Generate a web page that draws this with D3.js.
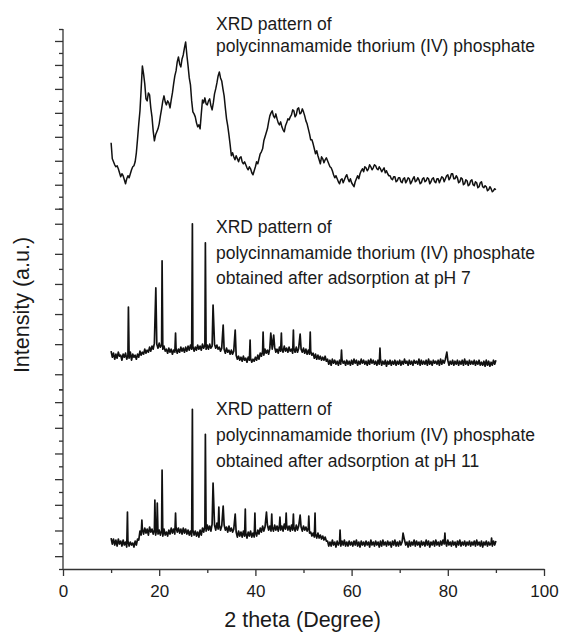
<!DOCTYPE html>
<html>
<head>
<meta charset="utf-8">
<script src="https://cdn.jsdelivr.net/npm/d3@7"></script>
<style>
  body { margin: 0; background: #fff; }
  text { font-family: 'Liberation Sans', Arial, sans-serif; fill: #1a1a1a; }
</style>
</head>
<body>
<div id="chart"></div>
<script>
// 2 theta scan: starts at 10 deg, step 0.25 deg
const scanStart = 10
const scanStep = 0.25

// intensity (a.u.), one value per step, 20 values per row (5 deg)
const asPrepared = [
  660, 500, 470, 440, 420, 430, 400, 360, 320, 350, 330, 290, 250, 300, 330, 310, 350, 390, 420, 430,
  470, 560, 700, 850, 980, 1200, 1430, 1350, 1250, 1100, 1080, 1160, 1140, 1010, 920, 780, 680, 740, 770, 800,
  850, 930, 1000, 1080, 1130, 1070, 1040, 1080, 1060, 1010, 1090, 1160, 1250, 1330, 1380, 1470, 1520, 1450, 1420, 1500,
  1540, 1610, 1670, 1540, 1430, 1310, 1240, 1080, 970, 950, 920, 860, 820, 840, 800, 950, 1090, 1060, 1110, 1050,
  1040, 1080, 1100, 1030, 990, 1060, 1150, 1200, 1260, 1330, 1370, 1310, 1280, 1200, 1130, 1010, 900, 830, 740, 640,
  530, 560, 520, 490, 530, 500, 470, 510, 520, 470, 450, 470, 440, 410, 390, 420, 400, 360, 340, 380,
  420, 470, 450, 500, 550, 570, 600, 680, 720, 760, 800, 870, 930, 960, 980, 930, 910, 950, 900, 860,
  840, 870, 820, 790, 770, 830, 860, 900, 890, 920, 940, 990, 980, 920, 940, 1000, 1010, 950, 960, 1000,
  970, 930, 880, 850, 800, 750, 690, 690, 650, 600, 550, 580, 530, 490, 450, 520, 500, 460, 490, 510,
  480, 450, 420, 410, 380, 340, 310, 330, 300, 270, 250, 290, 300, 260, 290, 320, 340, 300, 270, 300,
  260, 240, 220, 270, 300, 330, 300, 350, 380, 400, 370, 420, 410, 380, 400, 440, 420, 390, 410, 440,
  430, 400, 390, 420, 400, 370, 390, 410, 360, 380, 350, 330, 330, 300, 290, 320, 320, 270, 280, 310,
  310, 270, 260, 300, 310, 260, 280, 310, 300, 250, 270, 300, 320, 270, 280, 310, 290, 250, 260, 300,
  310, 270, 280, 310, 300, 250, 270, 300, 310, 270, 260, 300, 300, 260, 290, 320, 310, 270, 300, 330,
  340, 290, 310, 350, 350, 300, 300, 330, 310, 260, 270, 310, 300, 240, 250, 290, 280, 230, 240, 280,
  290, 240, 230, 270, 260, 210, 220, 260, 270, 220, 210, 230, 220, 180, 190, 220, 200, 170, 180, 200,
  190
]

const afterPh7 = [
  380, 320, 360, 300, 350, 310, 370, 330, 340, 290, 350, 320, 360, 300, 340, 310, 370, 290, 350, 320,
  340, 300, 350, 320, 380, 340, 370, 350, 400, 360, 390, 370, 420, 380, 430, 400, 460, 420, 450, 410,
  460, 420, 440, 400, 430, 380, 400, 360, 410, 370, 400, 350, 390, 370, 410, 360, 400, 370, 420, 380,
  410, 370, 420, 380, 430, 390, 440, 400, 430, 380, 420, 390, 440, 400, 430, 390, 450, 410, 440, 400,
  440, 400, 450, 410, 430, 390, 450, 410, 440, 400, 420, 380, 410, 370, 400, 360, 410, 370, 390, 350,
  390, 350, 380, 340, 340, 300, 330, 290, 320, 280, 330, 290, 310, 270, 320, 290, 310, 270, 300, 280,
  320, 290, 340, 300, 360, 330, 380, 340, 400, 360, 390, 350, 410, 370, 400, 360, 420, 370, 400, 360,
  420, 380, 410, 370, 430, 380, 410, 370, 420, 380, 400, 360, 410, 370, 420, 370, 410, 360, 400, 370,
  410, 360, 400, 350, 390, 350, 380, 340, 360, 310, 350, 300, 340, 300, 330, 290, 320, 290, 330, 280,
  300, 250, 290, 240, 300, 260, 290, 250, 280, 240, 290, 250, 300, 260, 280, 240, 290, 250, 280, 240,
  290, 250, 300, 260, 290, 240, 280, 250, 300, 260, 290, 250, 280, 240, 290, 250, 300, 260, 290, 250,
  280, 240, 290, 250, 300, 240, 280, 250, 290, 230, 280, 250, 290, 240, 280, 250, 290, 240, 280, 250,
  290, 240, 280, 250, 300, 260, 280, 240, 290, 250, 280, 240, 290, 260, 280, 250, 300, 240, 290, 250,
  280, 250, 290, 240, 300, 250, 280, 240, 290, 260, 280, 250, 290, 240, 300, 250, 290, 260, 300, 250,
  290, 240, 280, 250, 290, 240, 280, 250, 290, 240, 280, 250, 290, 240, 300, 250, 280, 240, 290, 250,
  280, 250, 290, 240, 280, 250, 290, 240, 270, 240, 280, 230, 290, 240, 280, 230, 270, 240, 290, 250,
  290
]

const afterPh11 = [
  310, 250, 300, 240, 290, 230, 300, 250, 280, 230, 290, 240, 270, 220, 280, 230, 270, 240, 260, 220,
  280, 240, 300, 290, 380, 340, 400, 350, 410, 360, 400, 340, 420, 370, 400, 350, 390, 340, 400, 350,
  390, 340, 380, 330, 400, 340, 370, 330, 390, 350, 410, 360, 400, 350, 420, 370, 410, 360, 400, 350,
  410, 360, 400, 350, 390, 340, 380, 330, 390, 340, 380, 330, 370, 320, 390, 340, 410, 370, 430, 380,
  440, 390, 430, 380, 450, 400, 440, 390, 460, 400, 440, 390, 430, 380, 440, 390, 420, 370, 430, 380,
  410, 370, 400, 350, 370, 320, 380, 330, 370, 320, 380, 330, 360, 310, 370, 330, 380, 320, 360, 320,
  370, 330, 390, 350, 410, 370, 430, 380, 420, 380, 440, 390, 430, 380, 420, 380, 440, 390, 430, 380,
  440, 390, 430, 380, 450, 400, 440, 390, 430, 380, 440, 390, 420, 380, 440, 390, 430, 380, 420, 380,
  430, 390, 420, 380, 410, 360, 370, 330, 360, 320, 350, 310, 360, 310, 340, 300, 330, 290, 320, 280,
  280, 230, 270, 230, 290, 240, 270, 220, 280, 240, 270, 230, 280, 240, 290, 230, 270, 230, 280, 240,
  270, 230, 280, 240, 290, 230, 270, 220, 280, 240, 270, 230, 280, 240, 270, 220, 290, 240, 270, 230,
  280, 240, 270, 220, 280, 230, 290, 240, 270, 230, 280, 240, 270, 220, 280, 240, 290, 230, 270, 230,
  280, 240, 270, 230, 290, 240, 270, 220, 280, 230, 270, 240, 290, 230, 280, 240, 270, 220, 280, 240,
  270, 230, 290, 240, 280, 220, 270, 240, 280, 230, 290, 240, 270, 230, 280, 240, 290, 250, 280, 230,
  290, 240, 270, 230, 280, 240, 270, 220, 280, 240, 290, 230, 270, 240, 280, 230, 270, 240, 280, 230,
  270, 240, 280, 230, 290, 240, 270, 230, 280, 220, 270, 240, 280, 230, 270, 240, 260, 230, 280, 240,
  280
]

// sharp reflections [2 theta, intensity]
const peaksPh7 = [
  [13.6, 820], [19.3, 1010], [20.6, 1280], [23.4, 560], [26.9, 1650],
  [29.6, 1460], [31.2, 840], [33.3, 640], [35.8, 590], [38.9, 490],
  [41.6, 570], [43.2, 560], [43.8, 540], [45.4, 560], [47.9, 590],
  [49.3, 550], [51.4, 570], [57.9, 390], [65.9, 410], [79.8, 370]
]

const peaksPh11 = [
  [13.4, 570], [16.4, 490], [19.1, 690], [19.6, 660], [20.6, 990],
  [23.4, 560], [26.9, 1600], [29.6, 1350], [31.2, 860], [32.4, 620],
  [33.3, 630], [35.8, 550], [37.9, 600], [39.9, 560], [42.3, 570],
  [43.4, 550], [45.1, 520], [46.4, 560], [47.9, 550], [49.3, 540],
  [51.1, 530], [52.4, 560], [57.6, 390], [70.7, 360], [79.4, 360],
  [89.1, 310]
]

const xTicks = [0, 20, 40, 60, 80, 100]
const xMinorTicks = [10, 30, 50, 70, 90]

const captions = [
  ['XRD pattern of', 'polycinnamamide thorium (IV) phosphate'],
  ['XRD pattern of', 'polycinnamamide thorium (IV) phosphate', 'obtained after adsorption at pH 7'],
  ['XRD pattern of', 'polycinnamamide thorium (IV) phosphate', 'obtained after adsorption at pH 11']
]

const margin = { top: 29, left: 63, right: 19, bottom: 65 }
const width = 563 - margin.left - margin.right
const height = 634 - margin.top - margin.bottom

const svg = d3
  .select('#chart')
  .append('svg')
  .attr('width', width + margin.left + margin.right)
  .attr('height', height + margin.top + margin.bottom)
  .append('g')
  .attr('transform', 'translate(' + margin.left + ',' + margin.top + ')')

const x = d3.scaleLinear().domain([0, 100]).range([0, width])

// three stacked layers, each with its own intensity axis
const panels = [
  { top: 0, bottom: 179.7, steps: 15, majorOdd: false },
  { top: 179.7, bottom: 360.3, steps: 12, majorOdd: true },
  { top: 360.3, bottom: height, steps: 14, majorOdd: true }
]
panels.forEach(p => {
  p.y = d3.scaleLinear().domain([0, 1800]).range([p.bottom, p.top])
})

function toPoints(values, peaks) {
  const pts = values.map((v, i) => [scanStart + i * scanStep, v])
  const merged = pts
    .filter(d => !peaks.some(p => Math.abs(p[0] - d[0]) < 0.06))
    .concat(peaks)
  return merged.sort((a, b) => a[0] - b[0])
}

const series = [
  toPoints(asPrepared, []),
  toPoints(afterPh7, peaksPh7),
  toPoints(afterPh11, peaksPh11)
]

const axisColor = '#333'

// y axes (ticks only, no labels)
panels.forEach(p => {
  const vals = d3.range(p.steps + 1).map(i => (i * 1800) / p.steps)
  const major = vals.filter((d, i) => (i % 2 === 1) === p.majorOdd)
  const minor = vals.filter((d, i) => (i % 2 === 1) !== p.majorOdd)

  svg
    .append('g')
    .call(d3.axisLeft(p.y).tickValues(major).tickFormat('').tickSizeInner(8).tickSizeOuter(0))
    .call(g => g.select('.domain').remove())
    .call(g => g.selectAll('line').attr('stroke', axisColor).attr('stroke-width', 1.3))

  svg
    .append('g')
    .call(d3.axisLeft(p.y).tickValues(minor).tickFormat('').tickSizeInner(4).tickSizeOuter(0))
    .call(g => g.select('.domain').remove())
    .call(g => g.selectAll('line').attr('stroke', axisColor).attr('stroke-width', 1.3))
})

svg
  .append('line')
  .attr('x1', 0)
  .attr('x2', 0)
  .attr('y1', 0)
  .attr('y2', height)
  .attr('stroke', axisColor)
  .attr('stroke-width', 1.3)

// x axis
svg
  .append('g')
  .attr('transform', `translate(0,${height})`)
  .call(d3.axisBottom(x).tickValues(xMinorTicks).tickFormat('').tickSizeInner(4).tickSizeOuter(0))
  .call(g => g.select('.domain').remove())
  .call(g => g.selectAll('line').attr('stroke', axisColor).attr('stroke-width', 1.3))

svg
  .append('g')
  .attr('class', 'x-axis')
  .attr('transform', `translate(0,${height})`)
  .call(d3.axisBottom(x).tickValues(xTicks).tickSizeInner(7).tickSizeOuter(0).tickPadding(9))
  .call(g => g.select('.domain').attr('stroke', axisColor).attr('stroke-width', 1.3))
  .call(g => g.selectAll('line').attr('stroke', axisColor).attr('stroke-width', 1.3))
  .call(g =>
    g
      .selectAll('text')
      .style('font-family', "'Liberation Sans', Arial, sans-serif")
      .style('font-size', '17px')
      .attr('fill', '#1a1a1a')
  )

// patterns
const line = d3.line()

series.forEach((pts, k) => {
  const p = panels[k]
  line.x(d => x(d[0])).y(d => p.y(d[1]))
  svg
    .append('path')
    .datum(pts)
    .attr('fill', 'none')
    .attr('stroke', '#111')
    .attr('stroke-width', k === 0 ? 1.5 : 1.7)
    .attr('stroke-linejoin', 'round')
    .attr('d', line)
})

// captions
const captionTop = [1790, 1555, 1540]
const captionGap = [22, 25.5, 26]
captions.forEach((lines, k) => {
  const p = panels[k]
  const t = svg
    .append('text')
    .attr('x', x(31.8))
    .attr('y', p.y(captionTop[k]))
    .style('font-size', '17.5px')
  t.selectAll('tspan')
    .data(lines)
    .join('tspan')
    .attr('x', x(31.8))
    .attr('dy', (d, i) => (i === 0 ? 0 : captionGap[k]))
    .text(d => d)
})

// axis titles
svg
  .append('text')
  .attr('x', x(49.8))
  .attr('y', height + 58)
  .attr('text-anchor', 'middle')
  .style('font-size', '21.5px')
  .text('2 theta (Degree)')

svg
  .append('text')
  .attr('transform', `translate(${-34},${276}) rotate(-90)`)
  .attr('text-anchor', 'middle')
  .style('font-size', '21.5px')
  .text('Intensity (a.u.)')
</script>
</body>
</html>
